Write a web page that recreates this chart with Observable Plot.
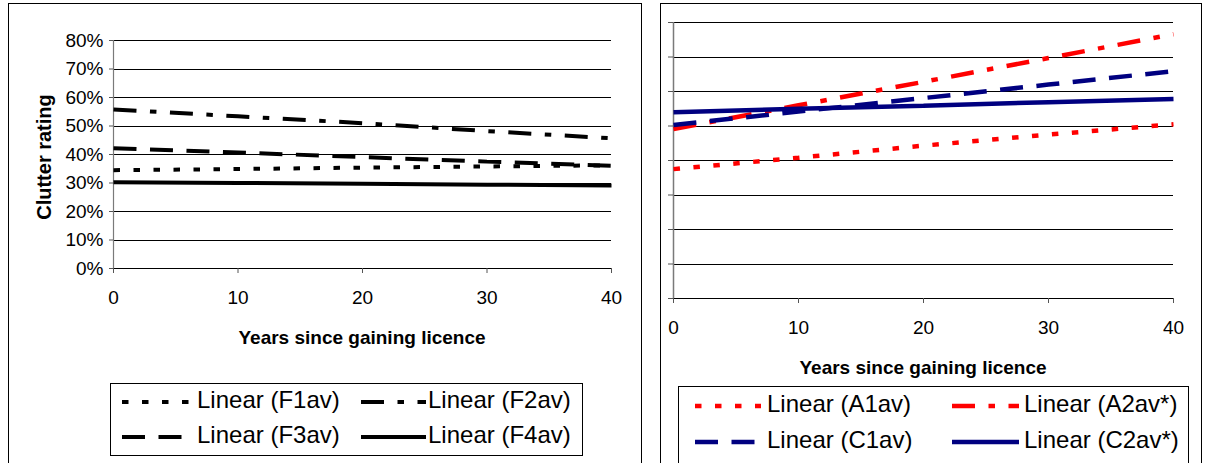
<!DOCTYPE html>
<html><head><meta charset="utf-8">
<script src="https://cdn.jsdelivr.net/npm/d3@7"></script>
<script src="https://cdn.jsdelivr.net/npm/@observablehq/plot@0.6"></script>
<style>
body{margin:0;background:#fff;font-family:"Liberation Sans",Arial,sans-serif;}
#root{position:relative;width:1207px;height:463px;overflow:hidden;background:#fff;}
.panel{position:absolute;border:1px solid #000;box-sizing:border-box;}
.title{position:absolute;font-weight:bold;font-size:19px;white-space:nowrap;line-height:1;transform:translate(-50%,-50%);color:#000;}
.leg{position:absolute;border:1px solid #000;box-sizing:border-box;background:#fff;}
.ltext{position:absolute;font-size:24px;line-height:1;white-space:nowrap;color:#000;}
.plot{position:absolute;top:0;}
</style></head><body><div id="root"></div>
<script>
// ---- data ----
const years = [0, 10, 20, 30, 40];
const xTicks = [0, 10, 20, 30, 40];
const yTicks = [0, 0.1, 0.2, 0.3, 0.4, 0.5, 0.6, 0.7, 0.8];
const yTickLabels = ["0%", "10%", "20%", "30%", "40%", "50%", "60%", "70%", "80%"];

const F1av = [0.345, 0.349, 0.354, 0.358, 0.362];
const F2av = [0.558, 0.534, 0.510, 0.482, 0.457];
const F3av = [0.422, 0.407, 0.391, 0.375, 0.360];
const F4av = [0.303, 0.300, 0.297, 0.294, 0.291];

const A1av = [0.375, 0.408, 0.443, 0.475, 0.505];
const A2av = [0.491, 0.560, 0.628, 0.697, 0.766];
const C1av = [0.503, 0.542, 0.581, 0.620, 0.659];
const C2av = [0.540, 0.550, 0.559, 0.569, 0.578];

const leftNames = ["Linear (F1av)", "Linear (F2av)", "Linear (F3av)", "Linear (F4av)"];
const rightNames = ["Linear (A1av)", "Linear (A2av*)", "Linear (C1av)", "Linear (C2av*)"];
const xTitle = "Years since gaining licence";
const yTitle = "Clutter rating";

// ---- styles ----
const DOT = "6.5,13.5", DASH = "23,13.5", DASHDOT = "23,13.5,6.5,13.5";
const leftStyles = [
  {values: F1av, stroke: "#000", dash: DOT},
  {values: F2av, stroke: "#000", dash: DASHDOT},
  {values: F3av, stroke: "#000", dash: DASH},
  {values: F4av, stroke: "#000", dash: null}
];
const rightStyles = [
  {values: A1av, stroke: "#ff0000", dash: DOT},
  {values: A2av, stroke: "#ff0000", dash: DASHDOT},
  {values: C1av, stroke: "#000080", dash: DASH},
  {values: C2av, stroke: "#000080", dash: null}
];

const root = document.getElementById("root");
function add(html) { const d = document.createElement("div"); d.innerHTML = html; const el = d.firstElementChild; root.appendChild(el); return el; }

function lineMarks(styles, names, sw) {
  return styles.map((s, k) => {
    const rows = years.map((yr, i) => ({year: yr, value: s.values[i], series: names[k]}));
    return Plot.line(rows, {x: "year", y: "value", stroke: s.stroke, strokeWidth: sw,
      strokeDasharray: s.dash || undefined, strokeLinecap: "butt", strokeLinejoin: "miter"});
  });
}

const font = {fontFamily: "'Liberation Sans', Arial, sans-serif", fontSize: "19px", color: "#000", background: "transparent", overflow: "visible"};

// panels
add(`<div class="panel" style="left:8px;top:3px;width:634px;height:480px"></div>`);
add(`<div class="panel" style="left:660px;top:3px;width:542px;height:480px"></div>`);

// left chart
const left = Plot.plot({
  width: 641, height: 300,
  marginLeft: 113, marginRight: 30, marginTop: 40, marginBottom: 32,
  style: font,
  x: {domain: [0, 40]},
  y: {domain: [0, 0.8]},
  marks: [
    Plot.ruleY(yTicks, {stroke: "#000", strokeWidth: 1, shapeRendering: "crispEdges"}),
    Plot.ruleX([0], {stroke: "#7a7a7a", strokeWidth: 1.2}),
    Plot.axisY({ticks: yTicks, tickFormat: d => yTickLabels[Math.round(d * 10)], tickSize: 4, tickPadding: 6, label: null, fontSize: 19, stroke: "#555"}),
    Plot.axisX({ticks: xTicks, tickSize: 5, tickPadding: 17, label: null, fontSize: 19, stroke: "#555"}),
    ...lineMarks(leftStyles, leftNames, 4)
  ]
});
left.classList.add("plot"); left.style.left = "0px"; root.appendChild(left);

// right chart
const right = Plot.plot({
  width: 541, height: 345,
  marginLeft: 13, marginRight: 28, marginTop: 22, marginBottom: 47,
  style: font,
  x: {domain: [0, 40]},
  y: {domain: [0, 0.8]},
  marks: [
    Plot.ruleY(yTicks, {stroke: "#000", strokeWidth: 1, shapeRendering: "crispEdges"}),
    Plot.ruleX([0], {stroke: "#7a7a7a", strokeWidth: 1.5}),
    Plot.axisY({ticks: yTicks, tickFormat: () => "", tickSize: 5, label: null, stroke: "#555"}),
    Plot.axisX({ticks: xTicks, tickSize: 5, tickPadding: 17, label: null, fontSize: 19, stroke: "#555"}),
    ...lineMarks(rightStyles, rightNames, 4.5)
  ]
});
right.classList.add("plot"); right.style.left = "660px"; root.appendChild(right);

// axis titles
add(`<div class="title" style="left:44px;top:157px;font-size:20px;transform:translate(-50%,-50%) rotate(-90deg)">${yTitle}</div>`);
add(`<div class="title" style="left:362px;top:337px">${xTitle}</div>`);
add(`<div class="title" style="left:923px;top:367px">${xTitle}</div>`);

// legends
function legend(box, items) {
  add(`<div class="leg" style="left:${box.x}px;top:${box.y}px;width:${box.w}px;height:${box.h}px"></div>`);
  items.forEach(it => {
    const dash = it.dash ? `stroke-dasharray="${it.dash}"` : "";
    add(`<svg style="position:absolute;left:${it.sx}px;top:${it.cy - 6}px" width="${it.sw}" height="12"><line x1="0" y1="6" x2="${it.sw}" y2="6" stroke="${it.stroke}" stroke-width="${it.lw}" ${dash}/></svg>`);
    add(`<div class="ltext" style="left:${it.tx}px;top:${it.cy - 14}px">${it.label}</div>`);
  });
}
const lRows = [402, 437];
legend({x: 110, y: 383, w: 473, h: 73}, leftStyles.map((s, k) => ({
  sx: k % 2 ? 361 : 122, sw: k % 2 ? 65 : 73, tx: k % 2 ? 428 : 197,
  cy: lRows[Math.floor(k / 2)], stroke: s.stroke, dash: s.dash, lw: 4, label: leftNames[k]})));
const rRows = [406, 442];
legend({x: 678, y: 386, w: 511, h: 100}, rightStyles.map((s, k) => ({
  sx: k % 2 ? 952 : 695, sw: k % 2 ? 67 : 66, tx: k % 2 ? 1024 : 767,
  cy: rRows[Math.floor(k / 2)], stroke: s.stroke, dash: s.dash, lw: 4.5, label: rightNames[k]})));
</script></body></html>
